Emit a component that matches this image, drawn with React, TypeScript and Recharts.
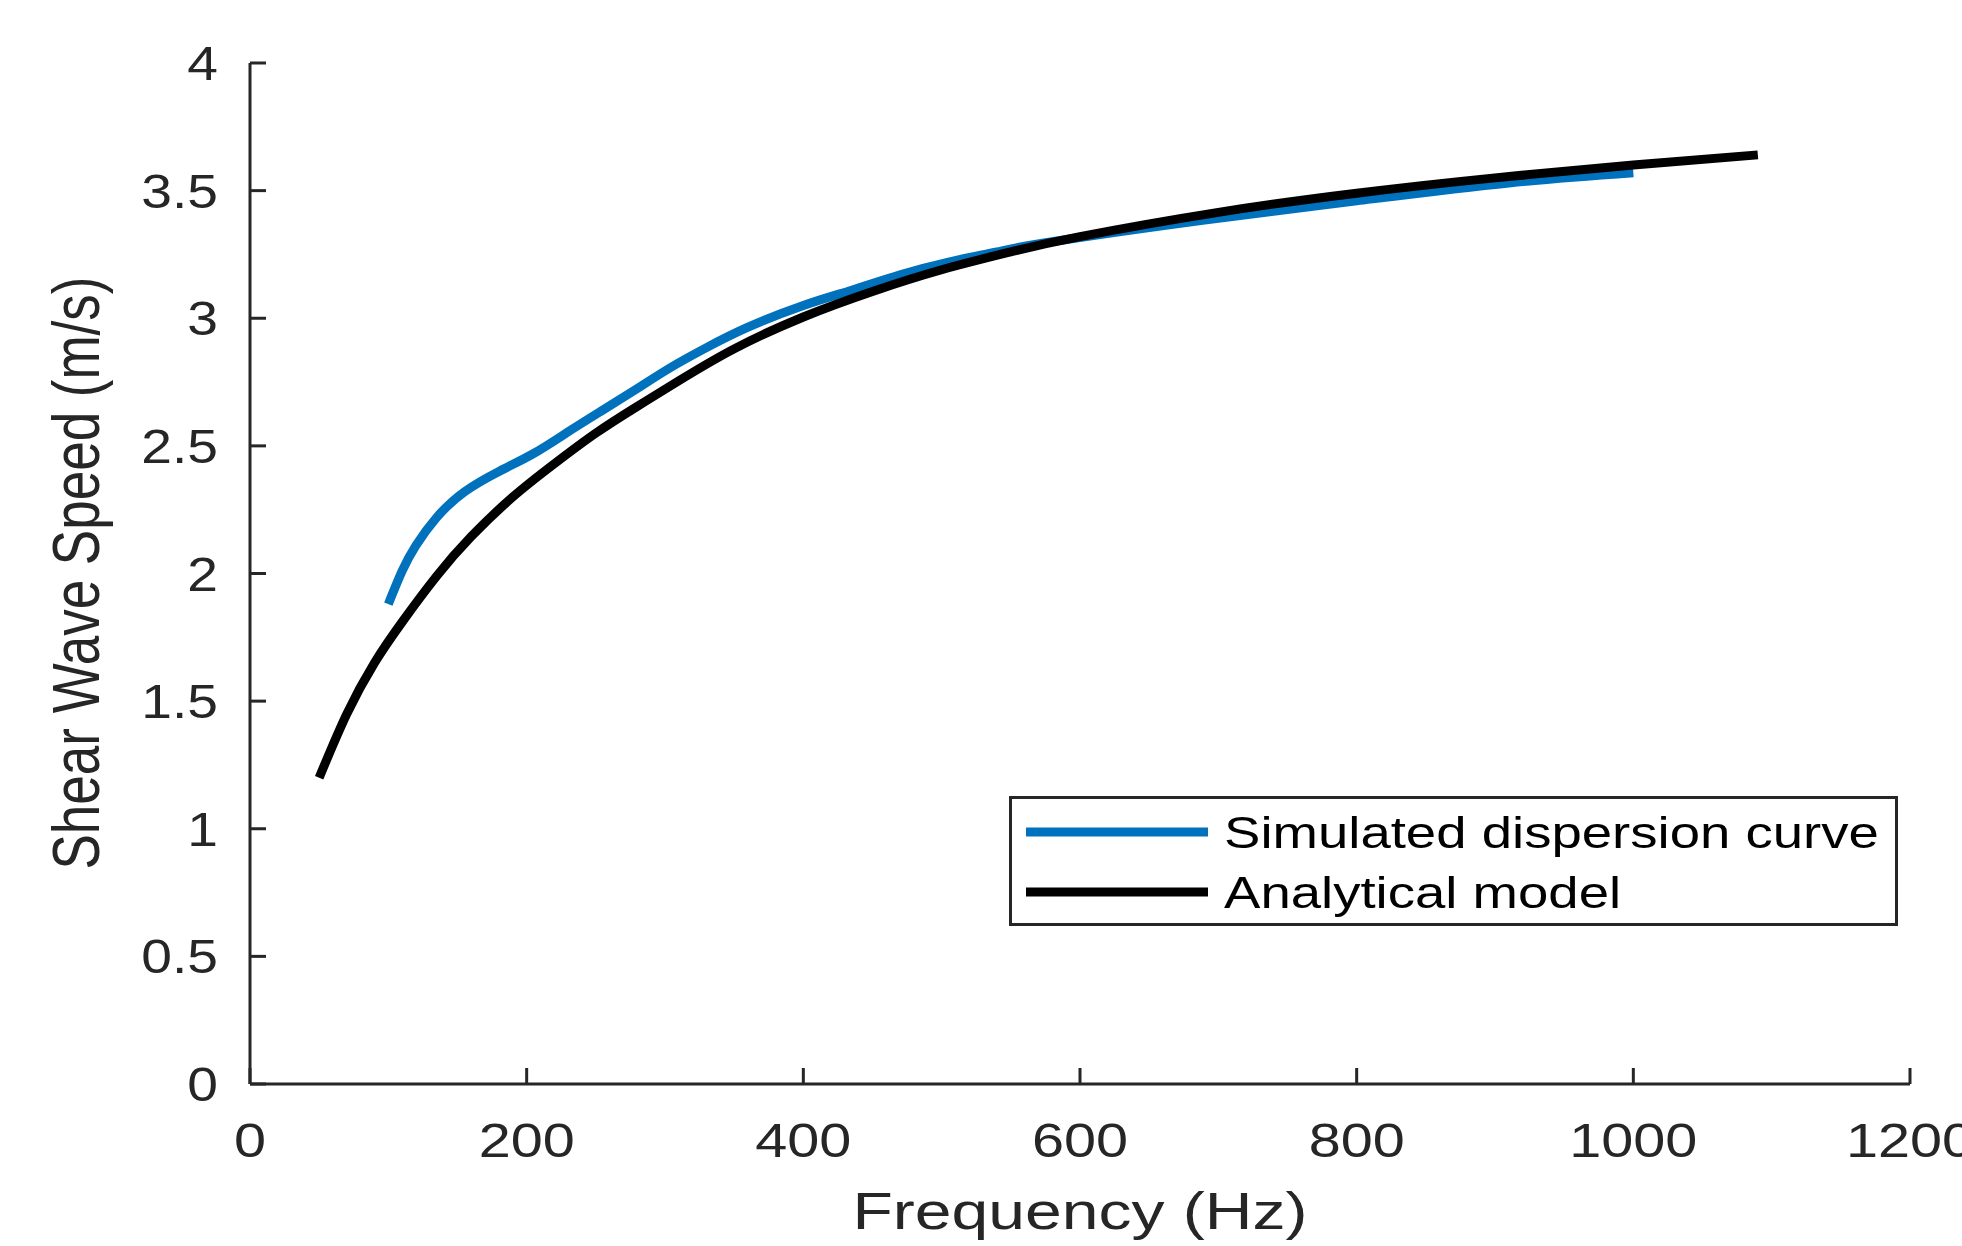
import React from 'react'
import { LineChart, Line, XAxis, YAxis, Legend } from 'recharts'

// values
const simFreq = [100, 110, 120, 135, 155, 180, 205, 230, 255, 280, 305, 330, 360, 400, 435, 470, 505, 540, 580, 690, 800, 910, 1000]
const simSpeed = [1.88, 2.01, 2.11, 2.22, 2.32, 2.4, 2.47, 2.555, 2.64, 2.725, 2.81, 2.885, 2.965, 3.05, 3.11, 3.17, 3.22, 3.26, 3.3, 3.385, 3.46, 3.53, 3.57]
const modelFreq = [50, 70, 90, 110, 135, 160, 190, 220, 250, 280, 310, 350, 400, 450, 500, 550, 600, 700, 800, 900, 1000, 1090]
const modelSpeed = [1.2, 1.45, 1.65, 1.81, 1.99, 2.145, 2.3, 2.43, 2.55, 2.655, 2.755, 2.88, 3.005, 3.105, 3.19, 3.26, 3.32, 3.415, 3.49, 3.55, 3.6, 3.64]
const xTicks = [0, 200, 400, 600, 800, 1000, 1200]
const yTicks = [0, 0.5, 1, 1.5, 2, 2.5, 3, 3.5, 4]
const seriesNames = ['Simulated dispersion curve', 'Analytical model']

const ink = '#262626'
const font = '"Liberation Sans", Arial, Helvetica, sans-serif'

const simData = simFreq.map((f, i) => ({ f, v: simSpeed[i] }))
const modelData = modelFreq.map((f, i) => ({ f, v: modelSpeed[i] }))

function XTick({ x, y, payload }: any) {
  return (
    <g>
      <line x1={x} y1={y} x2={x} y2={y - 16} stroke={ink} strokeWidth={3} />
      <text
        transform={`translate(${x},${y + 73}) scale(1.2,1)`}
        textAnchor="middle"
        fontSize={48}
        fontFamily={font}
        fill={ink}
      >
        {payload.value}
      </text>
    </g>
  )
}

function YTick({ x, y, payload }: any) {
  return (
    <g>
      <line x1={x} y1={y} x2={x + 16} y2={y} stroke={ink} strokeWidth={3} />
      <text
        transform={`translate(${x - 32},${y + 17}) scale(1.15,1)`}
        textAnchor="end"
        fontSize={48}
        fontFamily={font}
        fill={ink}
      >
        {payload.value}
      </text>
    </g>
  )
}

function LegendBox({ payload }: any) {
  // keep plotting order, not alphabetical
  const items = [...(payload || [])].sort(
    (a: any, b: any) => seriesNames.indexOf(a.value) - seriesNames.indexOf(b.value)
  )
  return (
    <svg width={889} height={130} style={{ display: 'block' }}>
      <rect x={1.5} y={1.5} width={886} height={127} fill="#fff" stroke={ink} strokeWidth={3} />
      {items.map((it: any, i: number) => (
        <g key={i}>
          <line x1={17} y1={36 + i * 60} x2={199} y2={36 + i * 60} stroke={it.color} strokeWidth={9} />
          <text
            transform={`translate(215,${52 + i * 60}) scale(1.24,1)`}
            fontSize={44}
            fontFamily={font}
            fill="#000"
          >
            {it.value}
          </text>
        </g>
      ))}
    </svg>
  )
}

export default function App() {
  return (
    <div style={{ position: 'absolute', left: 0, top: 0, width: 1962, height: 1246, background: '#fff' }}>
      <LineChart width={1962} height={1246} margin={{ top: 63, right: 52, left: 0, bottom: 0 }}>
        <XAxis
          type="number"
          dataKey="f"
          domain={[0, 1200]}
          ticks={xTicks}
          interval={0}
          height={162}
          tickSize={0}
          tickMargin={0}
          tickLine={false}
          axisLine={{ stroke: ink, strokeWidth: 3 }}
          tick={<XTick />}
        />
        <YAxis
          type="number"
          domain={[0, 4]}
          ticks={yTicks}
          interval={0}
          width={250}
          tickSize={0}
          tickMargin={0}
          tickLine={false}
          axisLine={{ stroke: ink, strokeWidth: 3 }}
          tick={<YTick />}
        />
        <Legend
          layout="horizontal"
          align="center"
          verticalAlign="middle"
          wrapperStyle={{ left: 1009, top: 796, width: 889, height: 130 }}
          content={(p: any) => <LegendBox payload={p.payload} />}
        />
        <Line
          data={simData}
          dataKey="v"
          name={seriesNames[0]}
          type="natural"
          stroke="#0072BD"
          strokeWidth={9}
          dot={false}
          isAnimationActive={false}
        />
        <Line
          data={modelData}
          dataKey="v"
          name={seriesNames[1]}
          type="natural"
          stroke="#000000"
          strokeWidth={9}
          dot={false}
          isAnimationActive={false}
        />
        <text
          transform="translate(1080,1229) scale(1.27,1)"
          textAnchor="middle"
          fontSize={52}
          fontFamily={font}
          fill={ink}
        >
          Frequency (Hz)
        </text>
        <text
          transform="translate(99,573) scale(1.25,1) rotate(-90)"
          textAnchor="middle"
          fontSize={53}
          fontFamily={font}
          fill={ink}
        >
          Shear Wave Speed (m/s)
        </text>
      </LineChart>
    </div>
  )
}
